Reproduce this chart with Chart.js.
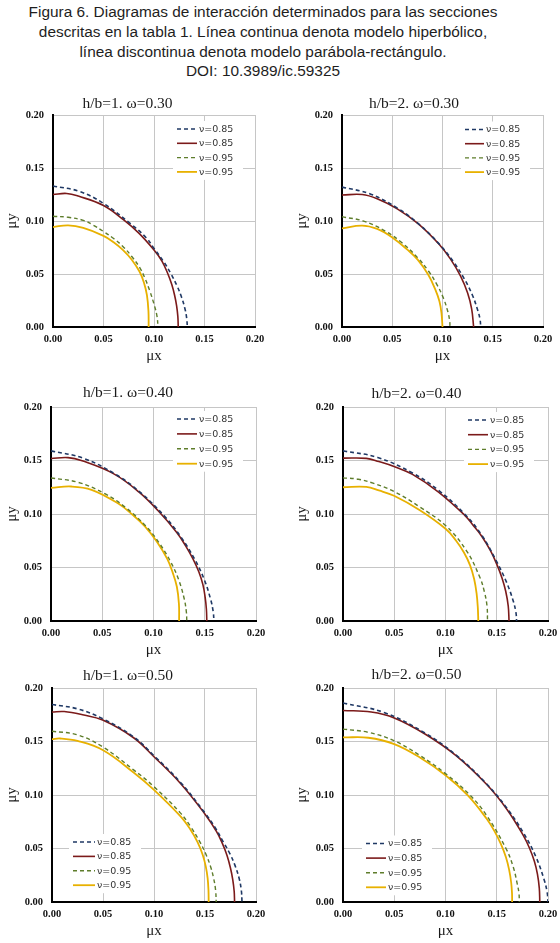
<!DOCTYPE html>
<html><head><meta charset="utf-8">
<script src="https://cdn.jsdelivr.net/npm/chart.js@4.4.1/dist/chart.umd.min.js"></script>
<style>
html,body{margin:0;padding:0;background:#fff;}
body{width:560px;height:943px;position:relative;overflow:hidden;}
#cap{position:absolute;left:0;top:2px;width:526px;text-align:center;font-family:"Liberation Sans",Arial,sans-serif;font-size:15.4px;line-height:19.8px;color:#1e1e1e;}
canvas{position:absolute;}
</style></head><body>
<div id="cap">Figura 6. Diagramas de interacción determinados para las secciones<br>descritas en la tabla 1. Línea continua denota modelo hiperbólico,<br>línea discontinua denota modelo parábola-rectángulo.<br>DOI: 10.3989/ic.59325</div>
<script>
// ---------- DATA ----------
const panelTitles = ['h/b=1. ω=0.30','h/b=2. ω=0.30','h/b=1. ω=0.40','h/b=2. ω=0.40','h/b=1. ω=0.50','h/b=2. ω=0.50'];
const seriesLabels = ['ν=0.85','ν=0.85','ν=0.95','ν=0.95'];
const tickValues = [0, 0.05, 0.10, 0.15, 0.20];
const tickLabels = ['0.00','0.05','0.10','0.15','0.20'];
const xAxisTitle = 'μx';
const yAxisTitle = 'μy';

// Panel 1: h/b=1, ω=0.30
const p1_dash85_x = [0, 0.026, 0.050, 0.076, 0.092, 0.100, 0.110, 0.1169, 0.1227, 0.1273, 0.1307, 0.1324, 0.133];
const p1_dash85_y = [0.133, 0.128, 0.1166, 0.098, 0.0845, 0.0742, 0.061, 0.050, 0.039, 0.028, 0.017, 0.008, 0];
const p1_solid85_x = [0, 0.0135, 0.025, 0.050, 0.070, 0.085, 0.100, 0.108, 0.1138, 0.1176, 0.1204, 0.1224, 0.1236, 0.124];
const p1_solid85_y = [0.125, 0.126, 0.1235, 0.1146, 0.101, 0.0885, 0.0726, 0.062, 0.050, 0.040, 0.030, 0.020, 0.010, 0];
const p1_dash95_x = [0, 0.015, 0.030, 0.040, 0.050, 0.060, 0.0694, 0.078, 0.0859, 0.091, 0.0957, 0.1005, 0.103, 0.104];
const p1_dash95_y = [0.1045, 0.1035, 0.1006, 0.096, 0.0901, 0.0835, 0.0758, 0.0665, 0.056, 0.046, 0.0344, 0.020, 0.010, 0];
const p1_solid95_x = [0, 0.015, 0.030, 0.050, 0.060, 0.0694, 0.078, 0.0859, 0.090, 0.093, 0.0945, 0.0947];
const p1_solid95_y = [0.0943, 0.0959, 0.0935, 0.086, 0.080, 0.0726, 0.0635, 0.0519, 0.042, 0.030, 0.015, 0];

// Panel 2: h/b=2, ω=0.30
const p2_dash85_x = [0, 0.0276, 0.0552, 0.0759, 0.0966, 0.1104, 0.1214, 0.1297, 0.1352, 0.1374, 0.138];
const p2_dash85_y = [0.132, 0.1257, 0.1121, 0.0975, 0.0784, 0.0622, 0.0459, 0.0302, 0.0153, 0.007, 0];
const p2_solid85_x = [0, 0.020, 0.035, 0.055, 0.076, 0.0966, 0.108, 0.118, 0.125, 0.129, 0.131];
const p2_solid85_y = [0.1245, 0.125, 0.121, 0.1115, 0.0972, 0.0780, 0.064, 0.048, 0.032, 0.017, 0];
const p2_dash95_x = [0, 0.0215, 0.043, 0.0591, 0.0753, 0.086, 0.0946, 0.1011, 0.1054, 0.1071, 0.1075];
const p2_dash95_y = [0.104, 0.0999, 0.0905, 0.0799, 0.0654, 0.0528, 0.0398, 0.0268, 0.0141, 0.006, 0];
const p2_solid95_x = [0, 0.020, 0.035, 0.050, 0.065, 0.0753, 0.086, 0.093, 0.097, 0.099, 0.100];
const p2_solid95_y = [0.093, 0.0956, 0.0925, 0.0845, 0.073, 0.0635, 0.049, 0.035, 0.024, 0.013, 0];

// Panel 3: h/b=1, ω=0.40
const p3_dash85_x = [0, 0.0318, 0.0636, 0.0875, 0.1113, 0.1272, 0.1399, 0.1495, 0.1558, 0.1582, 0.159];
const p3_dash85_y = [0.159, 0.152, 0.1367, 0.1199, 0.0973, 0.0779, 0.0582, 0.0388, 0.020, 0.009, 0];
const p3_solid85_x = [0, 0.0166, 0.0304, 0.0613, 0.0859, 0.1041, 0.1225, 0.1315, 0.1385, 0.1442, 0.1482, 0.1504, 0.1516, 0.152];
const p3_solid85_y = [0.1518, 0.1527, 0.1497, 0.1375, 0.1205, 0.1035, 0.083, 0.070, 0.058, 0.046, 0.034, 0.022, 0.011, 0];
const p3_dash95_x = [0, 0.0265, 0.053, 0.0729, 0.0928, 0.106, 0.1166, 0.1246, 0.1299, 0.132, 0.1325];
const p3_dash95_y = [0.1337, 0.1296, 0.1187, 0.106, 0.0884, 0.0723, 0.0555, 0.0384, 0.021, 0.009, 0];
const p3_solid95_x = [0, 0.0198, 0.0396, 0.066, 0.0793, 0.0916, 0.103, 0.1134, 0.1188, 0.1228, 0.1248, 0.125];
const p3_solid95_y = [0.1244, 0.1257, 0.1226, 0.1095, 0.0995, 0.0885, 0.0745, 0.058, 0.045, 0.032, 0.016, 0];

// Panel 4: h/b=2, ω=0.40
const p4_dash85_x = [0, 0.0339, 0.0678, 0.0932, 0.1186, 0.1355, 0.1491, 0.1592, 0.166, 0.1687, 0.1694];
const p4_dash85_y = [0.159, 0.1528, 0.1383, 0.1221, 0.100, 0.0800, 0.057, 0.037, 0.019, 0.008, 0];
const p4_solid85_x = [0, 0.0228, 0.035, 0.0498, 0.0678, 0.0932, 0.1186, 0.1265, 0.1355, 0.1440, 0.1505, 0.1552, 0.1587, 0.1612, 0.162];
const p4_solid85_y = [0.1522, 0.1520, 0.1490, 0.1444, 0.1370, 0.1205, 0.0990, 0.090, 0.079, 0.0655, 0.052, 0.040, 0.028, 0.014, 0];
const p4_dash95_x = [0, 0.015, 0.0293, 0.0498, 0.075, 0.1003, 0.1205, 0.1336, 0.138, 0.1405, 0.141];
const p4_dash95_y = [0.1338, 0.1325, 0.1288, 0.121, 0.1065, 0.089, 0.0656, 0.0406, 0.027, 0.014, 0];
const p4_solid95_x = [0, 0.0228, 0.035, 0.0498, 0.075, 0.1003, 0.110, 0.118, 0.124, 0.128, 0.1303, 0.1315, 0.132];
const p4_solid95_y = [0.125, 0.1253, 0.122, 0.117, 0.1035, 0.086, 0.0755, 0.064, 0.052, 0.039, 0.026, 0.013, 0];

// Panel 5: h/b=1, ω=0.50
const p5_dash85_x = [0, 0.025, 0.0497, 0.080, 0.0997, 0.1258, 0.1497, 0.160, 0.168, 0.1745, 0.1795, 0.1835, 0.1856, 0.1863];
const p5_dash85_y = [0.1846, 0.1805, 0.1713, 0.1543, 0.137, 0.112, 0.0835, 0.0695, 0.056, 0.045, 0.034, 0.022, 0.011, 0];
const p5_solid85_x = [0, 0.012, 0.030, 0.0497, 0.080, 0.0997, 0.1258, 0.1497, 0.1612, 0.1669, 0.1716, 0.1749, 0.1772, 0.1786, 0.179];
const p5_solid85_y = [0.1775, 0.178, 0.175, 0.170, 0.1535, 0.136, 0.111, 0.0825, 0.066, 0.055, 0.0435, 0.032, 0.021, 0.010, 0];
const p5_dash95_x = [0, 0.025, 0.0497, 0.080, 0.0997, 0.1258, 0.1362, 0.1451, 0.1512, 0.1555, 0.1585, 0.1604, 0.161];
const p5_dash95_y = [0.1596, 0.1562, 0.145, 0.1235, 0.108, 0.0833, 0.070, 0.056, 0.044, 0.033, 0.022, 0.011, 0];
const p5_solid95_x = [0, 0.008, 0.025, 0.0497, 0.080, 0.0997, 0.1258, 0.1355, 0.1427, 0.1478, 0.1508, 0.1526, 0.1534, 0.1536];
const p5_solid95_y = [0.1522, 0.1528, 0.1505, 0.142, 0.121, 0.105, 0.0802, 0.068, 0.056, 0.044, 0.033, 0.022, 0.011, 0];

// Panel 6: h/b=2, ω=0.50
const p6_dash85_x = [0, 0.04, 0.08, 0.11, 0.14, 0.16, 0.176, 0.188, 0.196, 0.1992, 0.2];
const p6_dash85_y = [0.186, 0.1771, 0.1579, 0.1375, 0.1105, 0.0876, 0.0647, 0.0426, 0.0216, 0.009, 0];
const p6_solid85_x = [0, 0.0275, 0.05, 0.08, 0.11, 0.14, 0.16, 0.176, 0.1821, 0.1867, 0.1897, 0.1915, 0.192];
const p6_solid85_y = [0.179, 0.1775, 0.172, 0.157, 0.137, 0.110, 0.0865, 0.062, 0.050, 0.038, 0.026, 0.013, 0];
const p6_dash95_x = [0, 0.025, 0.05, 0.075, 0.10, 0.1237, 0.140, 0.159, 0.166, 0.170, 0.1717, 0.172];
const p6_dash95_y = [0.1616, 0.1585, 0.1506, 0.137, 0.120, 0.100, 0.081, 0.050, 0.033, 0.017, 0.008, 0];
const p6_solid95_x = [0, 0.0247, 0.05, 0.075, 0.10, 0.122, 0.14, 0.1479, 0.1541, 0.1589, 0.1621, 0.1641, 0.1649, 0.165];
const p6_solid95_y = [0.1538, 0.1535, 0.1475, 0.135, 0.1185, 0.0995, 0.078, 0.066, 0.054, 0.042, 0.030, 0.018, 0.008, 0];

const PANEL_DATA = [
  [[p1_dash85_x,p1_dash85_y],[p1_solid85_x,p1_solid85_y],[p1_dash95_x,p1_dash95_y],[p1_solid95_x,p1_solid95_y]],
  [[p2_dash85_x,p2_dash85_y],[p2_solid85_x,p2_solid85_y],[p2_dash95_x,p2_dash95_y],[p2_solid95_x,p2_solid95_y]],
  [[p3_dash85_x,p3_dash85_y],[p3_solid85_x,p3_solid85_y],[p3_dash95_x,p3_dash95_y],[p3_solid95_x,p3_solid95_y]],
  [[p4_dash85_x,p4_dash85_y],[p4_solid85_x,p4_solid85_y],[p4_dash95_x,p4_dash95_y],[p4_solid95_x,p4_solid95_y]],
  [[p5_dash85_x,p5_dash85_y],[p5_solid85_x,p5_solid85_y],[p5_dash95_x,p5_dash95_y],[p5_solid95_x,p5_solid95_y]],
  [[p6_dash85_x,p6_dash85_y],[p6_solid85_x,p6_solid85_y],[p6_dash95_x,p6_dash95_y],[p6_solid95_x,p6_solid95_y]]
];

// ---------- STYLE / LAYOUT ----------
const SERIES_STYLE = [
  {color:'#1F3864', width:1.6, dash:[4,3]},
  {color:'#7B1A1A', width:1.6, dash:[]},
  {color:'#5E7D2B', width:1.4, dash:[4,3]},
  {color:'#E8B100', width:1.8, dash:[]}
];
// area: [left,right,top,bottom] page px of the plot area
const LAYOUT = [
  {area:[53,255,115,327],  cx:[0,298],   gap:11,   yTitleX:12,  leg:{x0:177,x1:197,tx:199,y:129,  step:14.3}},
  {area:[342,543,115,327], cx:[285,591], gap:11,   yTitleX:302, leg:{x0:465,x1:484,tx:486,y:129.5,step:14.2}},
  {area:[51,256,407,621],  cx:[0,298],   gap:14,   yTitleX:12,  leg:{x0:177,x1:197,tx:199,y:419,  step:14.9}},
  {area:[343,548,407,621], cx:[285,591], gap:12.7, yTitleX:302, leg:{x0:468,x1:488,tx:490,y:420,  step:14.7}},
  {area:[52,256,688,902],  cx:[0,298],   gap:12,   yTitleX:12,  leg:{x0:73,x1:95,tx:97,y:842,     step:14.4}},
  {area:[343,548,688,902], cx:[285,591], gap:13,   yTitleX:302, leg:{x0:366,x1:386,tx:388,y:843.5,step:14.6}}
];
const TOP_BOX = 30, BOTTOM_BOX = 42, TITLE_SIZE = 15.5, AXT_SIZE = 15;
const TICK_FONT = {family:'"Liberation Serif", "DejaVu Serif", serif', size:10.5, weight:'bold'};
const SERIF = '"Liberation Serif", "DejaVu Serif", serif';

const inlineLegend = {
  id:'inlineLegend',
  beforeDatasetsDraw(chart, args, o){
    const ctx = chart.ctx, L = o.leg;
    ctx.save();
    ctx.fillStyle = '#fff';
    ctx.fillRect(L.x0 - 4, L.y - 8, (L.tx + 44) - (L.x0 - 4), 3*L.step + 16);
    ctx.restore();
  },
  afterDatasetsDraw(chart, args, o){
    const ctx = chart.ctx, L = o.leg;
    ctx.save();
    ctx.font = '9.5px "DejaVu Sans", sans-serif';
    ctx.textBaseline = 'middle';
    ctx.textAlign = 'left';
    chart.data.datasets.forEach((ds, k) => {
      const y = L.y + k*L.step;
      ctx.beginPath();
      ctx.setLineDash(ds.borderDash || []);
      ctx.strokeStyle = ds.borderColor;
      ctx.lineWidth = ds.borderWidth;
      ctx.moveTo(L.x0, y); ctx.lineTo(L.x1, y);
      ctx.stroke();
      ctx.setLineDash([]);
      ctx.fillStyle = '#333';
      ctx.fillText(ds.label, L.tx, y + 0.5);
    });
    ctx.restore();
  }
};

LAYOUT.forEach((P, i) => {
  const [al, ar, at, ab] = P.area;
  const cl = P.cx[0], cw = P.cx[1] - P.cx[0];
  const ct = at - TOP_BOX, ch = (ab + BOTTOM_BOX) - ct;
  const canvas = document.createElement('canvas');
  canvas.width = cw; canvas.height = ch;
  canvas.style.left = cl + 'px'; canvas.style.top = ct + 'px';
  canvas.style.width = cw + 'px'; canvas.style.height = ch + 'px';
  document.body.appendChild(canvas);

  const lh = TITLE_SIZE * 1.2;
  const pt = TOP_BOX - P.gap - lh/2;
  const pb = TOP_BOX - pt - lh;
  const yAxisW = al - cl;
  const yTitlePad = P.yTitleX - cl - AXT_SIZE*1.2/2;
  const xTitlePad = BOTTOM_BOX - 29 - AXT_SIZE*1.2/2;
  const leg = {x0:P.leg.x0 - cl, x1:P.leg.x1 - cl, tx:P.leg.tx - cl, y:P.leg.y - ct, step:P.leg.step};

  const datasets = PANEL_DATA[i].map((s, k) => ({
    label: seriesLabels[k],
    data: s[0].map((x, j) => ({x: x, y: s[1][j]})),
    showLine: true,
    borderColor: SERIES_STYLE[k].color,
    backgroundColor: SERIES_STYLE[k].color,
    borderWidth: SERIES_STYLE[k].width,
    borderDash: SERIES_STYLE[k].dash,
    pointRadius: 0,
    fill: false,
    tension: 0.4
  }));

  new Chart(canvas, {
    type: 'scatter',
    data: {datasets},
    plugins: [inlineLegend],
    options: {
      responsive: false, animation: false, events: [],
      layout: {padding: {left: 0, top: 0, bottom: 0, right: cw - (ar - cl)}},
      plugins: {
        legend: {display: false},
        tooltip: {enabled: false},
        title: {display: true, text: panelTitles[i], color: '#1a1a1a',
          font: {family: SERIF, size: TITLE_SIZE, weight: 'normal', lineHeight: 1.2},
          padding: {top: pt, bottom: pb}},
        inlineLegend: {leg}
      },
      scales: {
        x: {
          type: 'linear', min: 0, max: 0.2,
          afterBuildTicks: s => { s.ticks = tickValues.map(v => ({value: v})); },
          afterFit: s => { s.height = BOTTOM_BOX; s.paddingLeft = 0; s.paddingRight = 0; },
          ticks: {callback: (v, idx) => tickLabels[idx], font: TICK_FONT, color: '#111', padding: 5.5, maxRotation: 0, autoSkip: false},
          grid: {color: '#c6c6c6', lineWidth: 1, drawTicks: false},
          border: {display: true, color: '#000', width: 2},
          title: {display: true, text: xAxisTitle, color: '#1a1a1a', font: {family: SERIF, size: AXT_SIZE, lineHeight: 1.2}, padding: {top: 0, bottom: xTitlePad}}
        },
        y: {
          type: 'linear', min: 0, max: 0.2,
          afterBuildTicks: s => { s.ticks = tickValues.map(v => ({value: v})); },
          afterFit: s => { s.width = yAxisW; s.paddingTop = 0; s.paddingBottom = 0; },
          ticks: {callback: (v, idx) => tickLabels[idx], font: TICK_FONT, color: '#111', padding: 9, autoSkip: false},
          grid: {color: '#c6c6c6', lineWidth: 1, drawTicks: false},
          border: {display: true, color: '#000', width: 2},
          title: {display: true, text: yAxisTitle, color: '#1a1a1a', font: {family: SERIF, size: AXT_SIZE, lineHeight: 1.2}, padding: {top: yTitlePad, bottom: 0}}
        }
      }
    }
  });
});
</script>
</body></html>
